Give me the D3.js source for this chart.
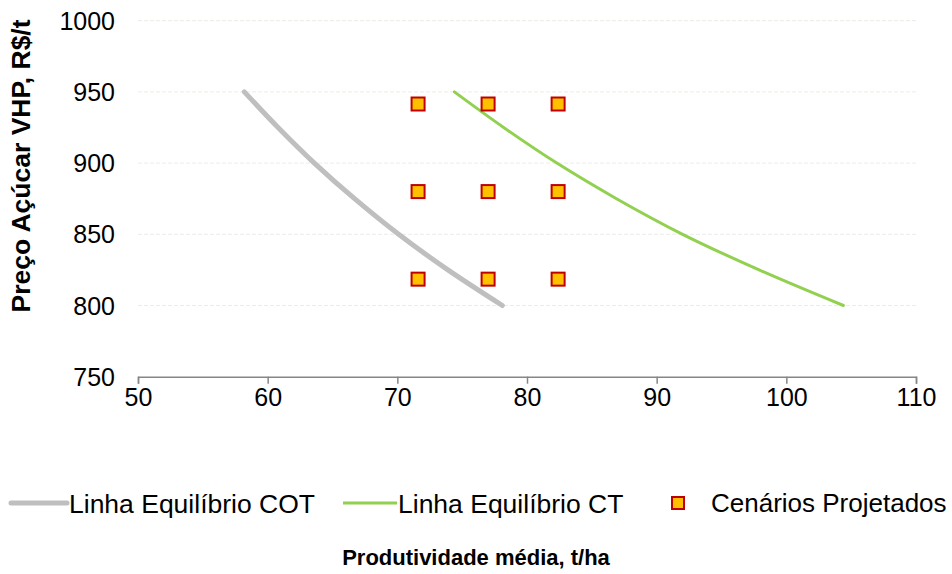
<!DOCTYPE html>
<html><head><meta charset="utf-8">
<script src="https://cdn.jsdelivr.net/npm/d3@7"></script>
<style>body{margin:0;background:#fff}svg{display:block}text{font-family:"Liberation Sans",Arial,sans-serif}</style>
</head><body>
<svg id="c" width="952" height="574"></svg>
<script>
// Data
const cotPrice = [950, 925, 900, 875, 850, 825, 800];
const cotProd  = [58.2, 60.8, 63.6, 66.7, 70.1, 73.9, 78.1];
const ctPrice  = [950, 925, 900, 875, 850, 825, 800];
const ctProd   = [74.4, 78.2, 82.3, 86.9, 92.0, 97.9, 104.4];
const scenProd  = [71.6, 77.0, 82.4];
const scenPrice = [941.5, 880, 818.5];
const xTicks = [50, 60, 70, 80, 90, 100, 110];
const yTicks = [750, 800, 850, 900, 950, 1000];
const seriesNames = ["Linha Equilíbrio COT", "Linha Equilíbrio CT", "Cenários Projetados"];
const xTitle = "Produtividade média, t/ha";
const yTitle = "Preço Açúcar VHP, R$/t";

const svg = d3.select("#c");
const x = d3.scaleLinear().domain([50, 110]).range([138, 916]);
const y = d3.scaleLinear().domain([750, 1000]).range([376.7, 20.7]);

// gridlines
svg.append("g").selectAll("line").data(yTicks.filter(d => d > 750)).join("line")
  .attr("x1", x(50)).attr("x2", x(110)).attr("y1", d => y(d)).attr("y2", d => y(d))
  .attr("stroke", "#ECECE6").attr("stroke-width", 1).attr("stroke-dasharray", "4,2");

// y tick labels
svg.append("g").selectAll("text").data(yTicks).join("text")
  .attr("x", 115).attr("y", d => y(d)).attr("dy", "0.36em")
  .attr("text-anchor", "end").attr("font-size", 25).attr("fill", "#000").text(d => d);

// x axis
const xa = svg.append("g").attr("transform", `translate(0,${y(750)})`)
  .call(d3.axisBottom(x).tickValues(xTicks).tickSize(7).tickPadding(5));
xa.select(".domain").attr("stroke", "#868686").attr("stroke-width", 1.5);
xa.selectAll(".tick line").attr("stroke", "#868686").attr("stroke-width", 1.5);
xa.selectAll(".tick text").attr("font-size", 25).attr("fill", "#000")
  .attr("font-family", '"Liberation Sans",Arial,sans-serif');
xa.attr("font-family", null);

const line = d3.line().curve(d3.curveCatmullRom);
svg.append("path")
  .attr("d", line(cotProd.map((p, i) => [x(p), y(cotPrice[i])])))
  .attr("fill", "none").attr("stroke", "#BFBFBF").attr("stroke-width", 5).attr("stroke-linecap", "round");
svg.append("path")
  .attr("d", line(ctProd.map((p, i) => [x(p), y(ctPrice[i])])))
  .attr("fill", "none").attr("stroke", "#92D050").attr("stroke-width", 3).attr("stroke-linecap", "round");

// scenarios grid
const pts = [];
scenPrice.forEach(pr => scenProd.forEach(pd => pts.push([pd, pr])));
const S = 13;
svg.append("g").selectAll("rect").data(pts).join("rect")
  .attr("x", d => x(d[0]) - S / 2).attr("y", d => y(d[1]) - S / 2)
  .attr("width", S).attr("height", S)
  .attr("fill", "#FFC000").attr("stroke", "#C00000").attr("stroke-width", 2);

// legend
const lg = svg.append("g");
lg.append("line").attr("x1", 11).attr("x2", 67).attr("y1", 503).attr("y2", 503)
  .attr("stroke", "#BFBFBF").attr("stroke-width", 5).attr("stroke-linecap", "round");
lg.append("text").attr("x", 69).attr("y", 503).attr("dy", "0.36em").attr("font-size", 26.5).text(seriesNames[0]);
lg.append("line").attr("x1", 343).attr("x2", 397).attr("y1", 503).attr("y2", 503)
  .attr("stroke", "#92D050").attr("stroke-width", 3);
lg.append("text").attr("x", 398).attr("y", 503).attr("dy", "0.36em").attr("font-size", 26.5).text(seriesNames[1]);
lg.append("rect").attr("x", 672).attr("y", 497).attr("width", 12).attr("height", 12)
  .attr("fill", "#FFC000").attr("stroke", "#C00000").attr("stroke-width", 2);
lg.append("text").attr("x", 711).attr("y", 503).attr("dy", "0.36em").attr("font-size", 26).text(seriesNames[2]);

// axis titles
svg.append("text").attr("x", 476).attr("y", 565).attr("text-anchor", "middle")
  .attr("font-size", 22).attr("font-weight", "bold").text(xTitle);
svg.append("text").attr("transform", "translate(30,166) rotate(-90)").attr("text-anchor", "middle")
  .attr("font-size", 26.5).attr("font-weight", "bold").text(yTitle);
</script>
</body></html>
